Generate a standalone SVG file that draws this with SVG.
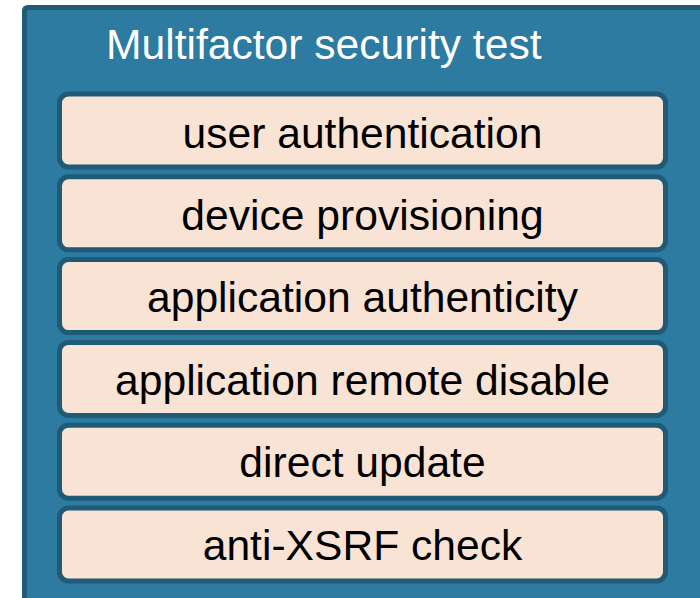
<svg xmlns="http://www.w3.org/2000/svg" width="700" height="598" viewBox="0 0 700 598">
<style>
.outer{fill:#2D7BA0;stroke:#1F5A76;stroke-width:5}
.box{fill:#F9E3D4;stroke:#1F5A76;stroke-width:5}
.lbl{font-family:"Liberation Sans",Arial,sans-serif;font-size:42.6px;fill:#000;text-anchor:middle}
.title{font-family:"Liberation Sans",Arial,sans-serif;font-size:42.6px;fill:#fff}
</style>
<rect width="700" height="598" fill="#fff"/>
<g id="container">
<rect class="outer" x="24.5" y="7.5" width="700" height="620" rx="3"/>
<text class="title" x="106" y="59">Multifactor security test</text>
</g>
<g id="connectors"/>
<g id="n1"><rect class="box" x="59.5" y="94" width="606" height="73" rx="9"/><text class="lbl" x="362.5" y="147.5">user authentication</text></g>
<g id="n2"><rect class="box" x="59.5" y="176.8" width="606" height="73" rx="9"/><text class="lbl" x="362.5" y="229.5">device provisioning</text></g>
<g id="n3"><rect class="box" x="59.5" y="259.6" width="606" height="73" rx="9"/><text class="lbl" x="362.5" y="312">application authenticity</text></g>
<g id="n4"><rect class="box" x="59.5" y="342.4" width="606" height="73" rx="9"/><text class="lbl" x="362.5" y="394.5">application remote disable</text></g>
<g id="n5"><rect class="box" x="59.5" y="425.2" width="606" height="73" rx="9"/><text class="lbl" x="362.5" y="477.2">direct update</text></g>
<g id="n6"><rect class="box" x="59.5" y="508" width="606" height="73" rx="9"/><text class="lbl" x="362.5" y="560">anti-XSRF check</text></g>
</svg>
